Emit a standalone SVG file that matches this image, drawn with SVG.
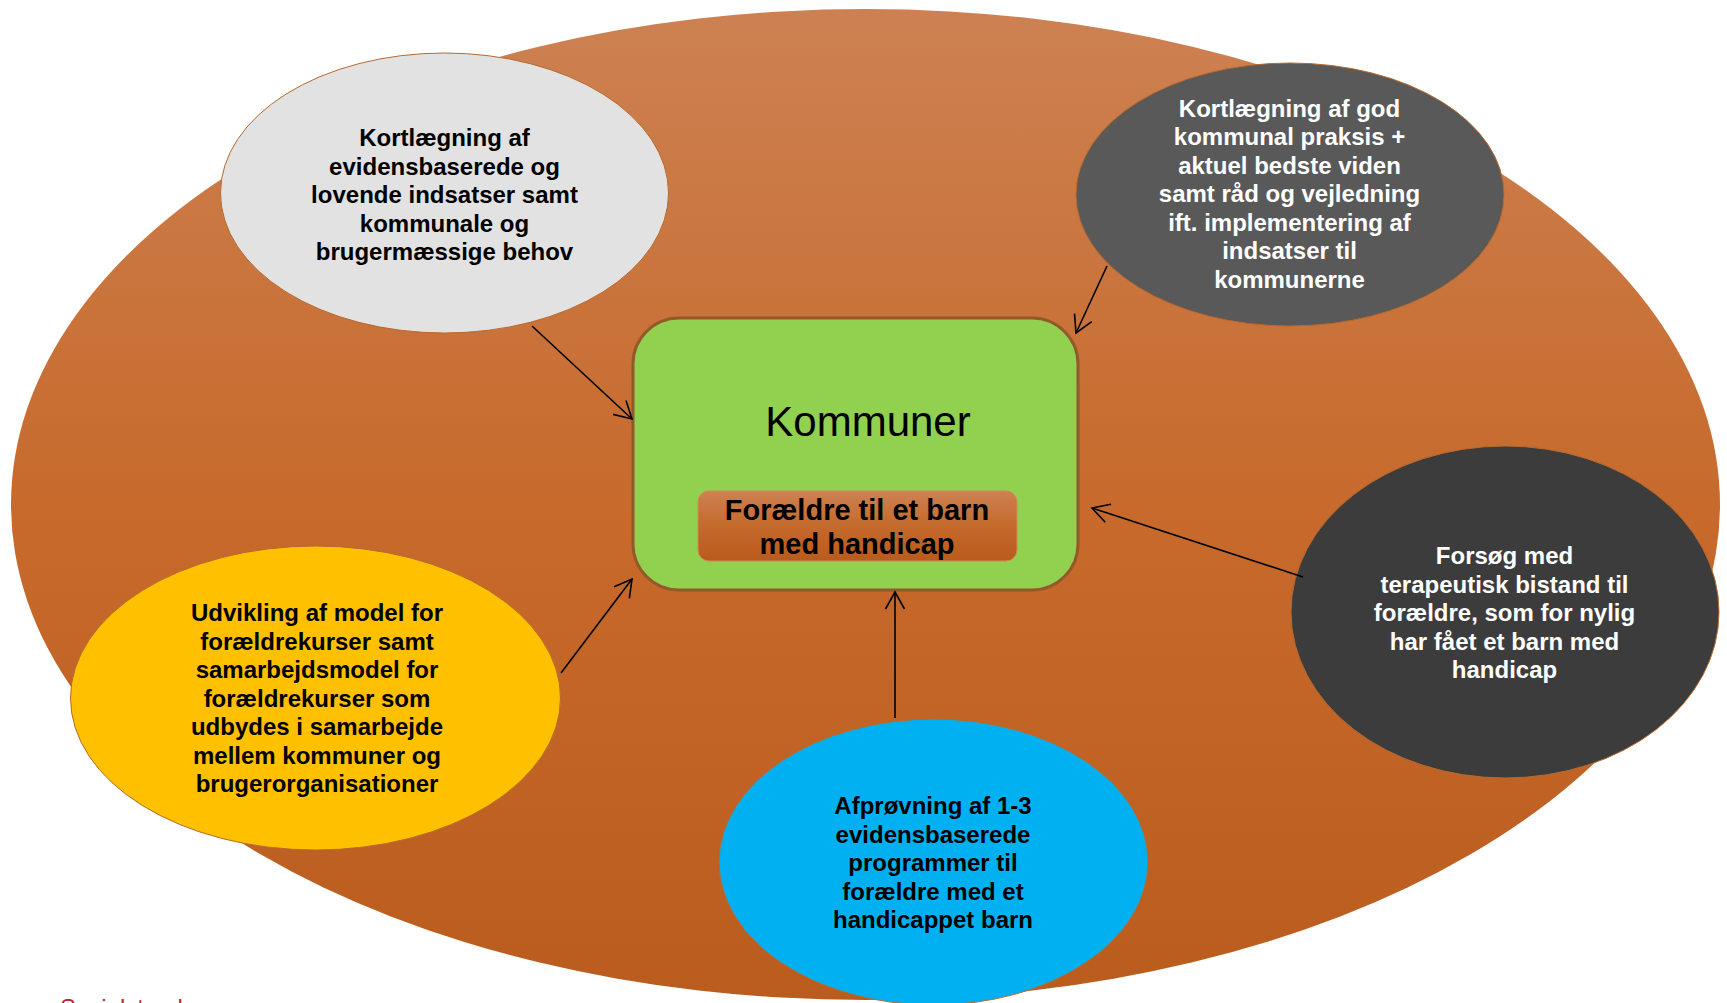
<svg xmlns="http://www.w3.org/2000/svg" width="1727" height="1003" viewBox="0 0 1727 1003">
<defs>
<linearGradient id="bgGrad" x1="0" y1="0" x2="0" y2="1">
<stop offset="0" stop-color="#cd8152"/>
<stop offset="0.5" stop-color="#c76a2c"/>
<stop offset="1" stop-color="#ba5c1e"/>
</linearGradient>
<linearGradient id="tagGrad" x1="0" y1="0" x2="0" y2="1">
<stop offset="0" stop-color="#cd8152"/>
<stop offset="0.5" stop-color="#c46a2c"/>
<stop offset="1" stop-color="#b95b1d"/>
</linearGradient>
<marker id="arr" markerUnits="userSpaceOnUse" markerWidth="24" markerHeight="24" viewBox="-20 -12 24 24" refX="0" refY="0" orient="auto">
<path d="M -17 -9.5 L 0 0 L -17 9.5" fill="none" stroke="#000" stroke-width="1.6"/>
</marker>
</defs>
<style>
.t{font-family:"Liberation Sans",Arial,sans-serif;font-weight:bold;font-size:24px;text-anchor:middle}
.dark{fill:#000}
.light{fill:#fff}
.node{stroke:#b8692e;stroke-width:1}
.conn{stroke:#000;stroke-width:1.6;fill:none}
</style>
<rect x="0" y="0" width="1727" height="1003" fill="#ffffff"/>
<g id="background">
<ellipse cx="865.5" cy="504.5" rx="854.5" ry="495.5" fill="url(#bgGrad)"/>
</g>
<text x="60" y="1016" font-family="'Liberation Sans',Arial,sans-serif" font-size="24" fill="#b8282e">Socialstyrelsen</text>
<g id="kommuner">
<rect x="633" y="318" width="445" height="272" rx="46" ry="46" fill="#92d050" stroke="#94592a" stroke-width="3"/>
<text x="868" y="436" font-family="'Liberation Sans',Arial,sans-serif" font-size="42" text-anchor="middle" fill="#000">Kommuner</text>
<rect x="698" y="491" width="319" height="70" rx="11" ry="11" fill="url(#tagGrad)" stroke="#d48a55" stroke-width="1"/>
<text class="t dark" x="857" y="520" style="font-size:29px">Forældre til et barn</text>
<text class="t dark" x="857" y="554" style="font-size:29px">med handicap</text>
</g>
<g id="node-kortlaegning">
<ellipse class="node" cx="444.5" cy="193" rx="224" ry="140" fill="#e2e2e2"/>
<text class="t dark" x="444.5" y="146">Kortlægning af</text>
<text class="t dark" x="444.5" y="174.5">evidensbaserede og</text>
<text class="t dark" x="444.5" y="203">lovende indsatser samt</text>
<text class="t dark" x="444.5" y="231.5">kommunale og</text>
<text class="t dark" x="444.5" y="260">brugermæssige behov</text>
</g>
<g id="node-praksis">
<ellipse class="node" cx="1290" cy="194.5" rx="214" ry="131.5" fill="#595959"/>
<text class="t light" x="1289.5" y="116.5">Kortlægning af god</text>
<text class="t light" x="1289.5" y="145">kommunal praksis +</text>
<text class="t light" x="1289.5" y="173.5">aktuel bedste viden</text>
<text class="t light" x="1289.5" y="202">samt råd og vejledning</text>
<text class="t light" x="1289.5" y="230.5">ift. implementering af</text>
<text class="t light" x="1289.5" y="259">indsatser til</text>
<text class="t light" x="1289.5" y="287.5">kommunerne</text>
</g>
<g id="node-udvikling">
<ellipse class="node" cx="315.5" cy="698" rx="245" ry="152" fill="#ffc000"/>
<text class="t dark" x="317" y="621">Udvikling af model for</text>
<text class="t dark" x="317" y="649.5">forældrekurser samt</text>
<text class="t dark" x="317" y="678">samarbejdsmodel for</text>
<text class="t dark" x="317" y="706.5">forældrekurser som</text>
<text class="t dark" x="317" y="735">udbydes i samarbejde</text>
<text class="t dark" x="317" y="763.5">mellem kommuner og</text>
<text class="t dark" x="317" y="792">brugerorganisationer</text>
</g>
<g id="node-afproevning">
<ellipse class="node" cx="933.5" cy="862" rx="214.5" ry="143" fill="#00b0f0"/>
<text class="t dark" x="933" y="814">Afprøvning af 1-3</text>
<text class="t dark" x="933" y="842.5">evidensbaserede</text>
<text class="t dark" x="933" y="871">programmer til</text>
<text class="t dark" x="933" y="899.5">forældre med et</text>
<text class="t dark" x="933" y="928">handicappet barn</text>
</g>
<g id="node-forsoeg">
<ellipse class="node" cx="1505" cy="612" rx="214" ry="166" fill="#3c3c3c"/>
<text class="t light" x="1504.5" y="564">Forsøg med</text>
<text class="t light" x="1504.5" y="592.5">terapeutisk bistand til</text>
<text class="t light" x="1504.5" y="621">forældre, som for nylig</text>
<text class="t light" x="1504.5" y="649.5">har fået et barn med</text>
<text class="t light" x="1504.5" y="678">handicap</text>
</g>
<g id="connectors">
<line class="conn" x1="532" y1="326" x2="632" y2="419" marker-end="url(#arr)"/>
<line class="conn" x1="1107" y1="266" x2="1076" y2="333" marker-end="url(#arr)"/>
<line class="conn" x1="561" y1="673" x2="632" y2="579" marker-end="url(#arr)"/>
<line class="conn" x1="1303" y1="577" x2="1092" y2="508" marker-end="url(#arr)"/>
<line class="conn" x1="895" y1="718" x2="895" y2="592" marker-end="url(#arr)"/>
</g>
</svg>
